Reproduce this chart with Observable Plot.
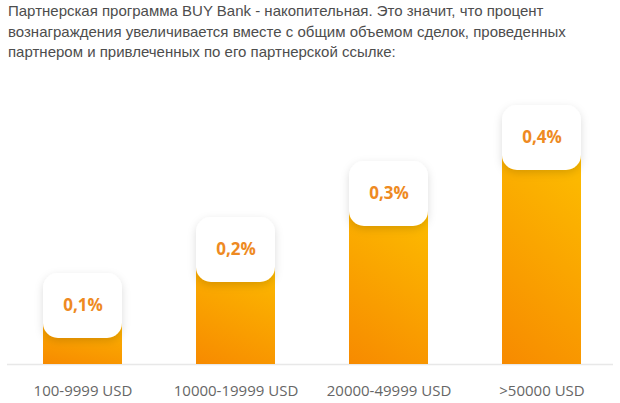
<!DOCTYPE html>
<html>
<head>
<meta charset="utf-8">
<script src="https://cdn.jsdelivr.net/npm/d3@7"></script>
<script src="https://cdn.jsdelivr.net/npm/@observablehq/plot@0.6"></script>
<style>
  html, body { margin: 0; padding: 0; background: #fff; }
  #title { height: 70px; box-sizing: border-box; padding: 1px 0 0 8px; font-family: "Liberation Sans", Arial, sans-serif; font-size: 15px; line-height: 20.5px; color: #4d4d4d; }
  svg { display: block; }
</style>
</head>
<body>
<div id="title">Партнерская программа BUY Bank - накопительная. Это значит, что процент<br>вознаграждения увеличивается вместе с общим объемом сделок, проведенных<br>партнером и привлеченных по его партнерской ссылке:</div>
<div id="chart"></div>
<script>
const categories = ["100-9999 USD", "10000-19999 USD", "20000-49999 USD", ">50000 USD"];
const rates = [0.1, 0.2, 0.3, 0.4];
const labels = rates.map(v => v.toFixed(1).replace(".", ",") + "%");

const data = categories.map((c, i) => ({category: c, rate: rates[i], label: labels[i]}));
const yDomain = [-0.0625, 0.4];

const chart = Plot.plot({
  width: 620,
  height: 333,
  marginTop: 0,
  marginLeft: 7,
  marginRight: 7,
  marginBottom: 39,
  style: {fontFamily: "'Open Sans', sans-serif", fontSize: "15px", color: "#666", background: "#fff"},
  x: {domain: categories, range: [41, 583], paddingInner: 0.4805, paddingOuter: 0, tickSize: 0, tickPadding: 21, label: null},
  y: {domain: yDomain, range: [294, 35], axis: null},
  marks: [
    Plot.ruleY([yDomain[0]], {stroke: "#e8e8e8", strokeWidth: 1.5}),
    Plot.barY(data, {x: "category", y1: () => yDomain[0], y2: "rate", insetTop: 30, fill: "url(#barGrad)"}),
    Plot.rect(data, {x: "category", y1: "rate", y2: "rate", insetBottom: -65, rx: 15, fill: "#fff"}),
    Plot.text(data, {x: "category", y: "rate", dy: 32.5, text: "label", fill: "#ee8a22", fontSize: 17, fontWeight: "bold", fontFamily: "'Open Sans', sans-serif"})
  ]
});

const svg = d3.select(chart);
const defs = svg.insert("defs", ":first-child");
const grad = defs.append("linearGradient").attr("id", "barGrad").attr("x1", "0.3").attr("y1", "0").attr("x2", "0").attr("y2", "1");
grad.append("stop").attr("offset", "0").attr("stop-color", "#fcb800");
grad.append("stop").attr("offset", "1").attr("stop-color", "#f78a00");
const f = defs.append("filter").attr("id", "boxShadow").attr("x", "-30%").attr("y", "-30%").attr("width", "160%").attr("height", "170%");
f.append("feDropShadow").attr("dx", 0).attr("dy", 3).attr("stdDeviation", 4).attr("flood-color", "#000").attr("flood-opacity", 0.14);
svg.select('g[aria-label="rect"]').attr("filter", "url(#boxShadow)");

document.getElementById("chart").appendChild(chart);
</script>
</body>
</html>
